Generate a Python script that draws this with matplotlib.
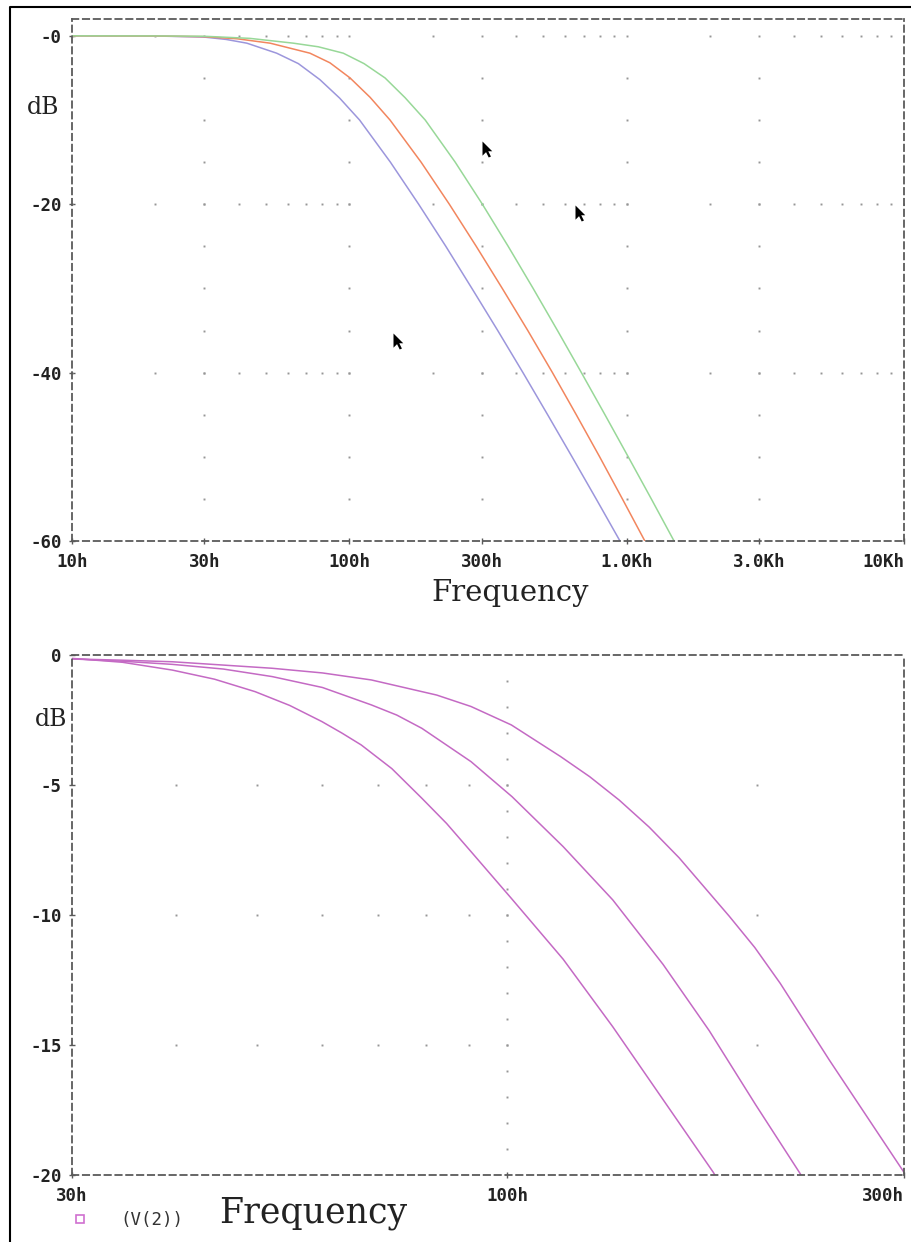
import matplotlib
matplotlib.use('Agg')
import matplotlib.pyplot as plt
from matplotlib.lines import Line2D
from matplotlib.path import Path

# ---- upper plot: three traces, 10 Hz .. 10 kHz ----
freq_blue = [10, 20, 30, 36, 42.7, 54.7, 65.5, 78.3, 92.3, 108.9, 140.6, 177.8, 222.8,
             276.7, 342.8, 422.7, 518.8, 635.3, 776.2, 946, 965]
db_blue = [0, -0.02, -0.15, -0.43, -0.87, -2.06, -3.3, -5.2, -7.4, -10, -15, -20, -25,
           -30, -35, -40, -45, -50, -55, -60, -60.5]

freq_orange = [10, 20, 30, 39.4, 51.8, 72.1, 85.1, 100.6, 118.8, 140.2, 181.4, 229.4, 286.8,
               356, 440, 540, 658, 799, 965, 1163, 1190]
db_orange = [0, -0.02, -0.1, -0.35, -0.87, -2.06, -3.2, -5, -7.3, -10, -15, -20, -25,
             -30, -35, -40, -45, -50, -55, -60, -60.6]

freq_green = [10, 20, 30, 43.8, 62.8, 77.3, 95.1, 113, 134.5, 158.9, 187.8, 240.8, 301.8,
              373.9, 460, 563, 686.6, 835, 1013, 1227, 1482, 1510]
db_green = [0, -0.01, -0.05, -0.3, -0.87, -1.3, -2.06, -3.3, -5, -7.35, -10, -15, -20,
            -25, -30, -35, -40, -45, -50, -55, -60, -60.5]

top_xticks = [10, 30, 100, 300, 1000, 3000, 10000]
top_xlabels = ['10h', '30h', '100h', '300h', '1.0Kh', '3.0Kh', '10Kh']
top_yticks = [0, -20, -40, -60]
top_ylabels = ['-0', '-20', '-40', '-60']

# mouse pointers left in the screenshot
cursor_f = [300, 651, 144]
cursor_db = [-12.5, -20.1, -35.3]

# ---- lower plot: zoom 30 Hz .. 300 Hz, V(2) ----
freq_a = [30, 34.5, 39.6, 44.5, 49.8, 54.8, 59.9, 63.3, 66.8, 72.7, 79.0, 84.6, 90.5,
          101.2, 116.8, 134.0, 154.0, 177.0, 180]
db_a = [-0.13, -0.28, -0.58, -0.93, -1.41, -1.94, -2.56, -3.0, -3.46, -4.37, -5.51, -6.48, -7.56,
        -9.36, -11.7, -14.3, -17.1, -19.9, -20.3]

freq_b = [30, 34.5, 39.6, 45.6, 52.2, 60, 68.7, 73.7, 79.0, 90.5, 101.4, 116.8, 134,
          154, 175, 199, 225, 228]
db_b = [-0.15, -0.24, -0.36, -0.54, -0.83, -1.25, -1.92, -2.31, -2.82, -4.10, -5.45, -7.37, -9.42,
        -11.9, -14.45, -17.3, -19.94, -20.25]

freq_c = [30, 34.5, 39.6, 52.2, 60, 68.7, 82.3, 90.5, 101.2, 115.9, 125.7, 136.4, 148.2,
          161, 185, 198.5, 213, 244, 298.6, 300]
db_c = [-0.15, -0.2, -0.26, -0.51, -0.69, -0.96, -1.54, -1.98, -2.69, -3.9, -4.68, -5.58, -6.62,
        -7.8, -10.05, -11.25, -12.63, -15.58, -19.8, -19.9]

bot_xticks = [30, 100, 300]
bot_xlabels = ['30h', '100h', '300h']
bot_yticks = [0, -5, -10, -15, -20]
bot_ylabels = ['0', '-5', '-10', '-15', '-20']

W, H = 911, 1242
fig = plt.figure(figsize=(W / 100, H / 100), dpi=100)
fig.patch.set_facecolor('white')

frame_col = '#5a5a5a'
dot_col = '#969696'
tick_font = dict(family='DejaVu Sans Mono', weight='bold', size=12.5)


def style_axes(ax, xticks, xlabels, yticks, ylabels):
    ax.set_xscale('log')
    for sp in ax.spines.values():
        sp.set_linestyle((0, (3.5, 2.5)))
        sp.set_color(frame_col)
        sp.set_linewidth(1.3)
    ax.set_xticks(xticks)
    ax.set_xticklabels(xlabels, fontdict=tick_font)
    ax.get_xticklabels()[-1].set_ha('right')
    ax.set_yticks(yticks)
    ax.set_yticklabels(ylabels, fontdict=tick_font)
    ax.minorticks_off()
    ax.tick_params(axis='both', direction='inout', length=5, width=1,
                   color=frame_col, labelcolor='#222222')
    ax.tick_params(axis='x', pad=6)
    ax.tick_params(axis='y', pad=5)


def grid_dots(ax, row_y, row_x, col_x, col_y):
    xs = [x for _ in row_y for x in row_x]
    ys = [y for y in row_y for _ in row_x]
    ax.plot(xs, ys, ls='none', marker='s', ms=1.4, mew=0, color=dot_col)
    xs = [x for x in col_x for _ in col_y]
    ys = [y for _ in col_x for y in col_y]
    ax.plot(xs, ys, ls='none', marker='s', ms=1.4, mew=0, color=dot_col)


# upper axes
ax1 = fig.add_axes([72 / W, 1 - 541 / H, 832 / W, 522 / H])
ax1.set_xlim(10, 10000)
ax1.set_ylim(-60, 2.0)
top_minor = [d * k for d in (10, 100, 1000) for k in range(1, 10)] + [10000]
grid_dots(ax1, [0, -20, -40], top_minor, [30, 100, 300, 1000, 3000],
          [-5 * i for i in range(1, 12)])
ax1.plot(freq_blue, db_blue, color='#9c96dc', lw=1.1)
ax1.plot(freq_orange, db_orange, color='#f2865e', lw=1.1)
ax1.plot(freq_green, db_green, color='#98d898', lw=1.1)
style_axes(ax1, top_xticks, top_xlabels, top_yticks, top_ylabels)

pointer = Path([(0, 0), (0, -16), (4, -12), (7, -18), (9.5, -17), (6.5, -11), (11, -11), (0, 0)],
               [Path.MOVETO] + [Path.LINETO] * 6 + [Path.CLOSEPOLY])
ax1.plot(cursor_f, cursor_db, ls='none', marker=pointer, ms=23, color='black', mew=0)

# lower axes
ax2 = fig.add_axes([72 / W, 1 - 1175 / H, 832 / W, 520 / H])
ax2.set_xlim(30, 300)
ax2.set_ylim(-20, 0)
grid_dots(ax2, [-5, -10, -15], [40, 50, 60, 70, 80, 90, 100, 200], [100],
          [-i for i in range(1, 20)])
purple = '#c46ac4'
ax2.plot(freq_a, db_a, color=purple, lw=1.1)
ax2.plot(freq_b, db_b, color=purple, lw=1.1)
ax2.plot(freq_c, db_c, color=purple, lw=1.1)
style_axes(ax2, bot_xticks, bot_xlabels, bot_yticks, bot_ylabels)

# axis titles
fig.text(43 / W, 1 - 108 / H, 'dB', family='DejaVu Serif', size=17,
         ha='center', va='center', color='#222222')
fig.text(51 / W, 1 - 720 / H, 'dB', family='DejaVu Serif', size=17,
         ha='center', va='center', color='#222222')
fig.text(510 / W, 1 - 601 / H, 'Frequency', family='DejaVu Serif', size=21,
         ha='center', va='baseline', color='#222222')
fig.text(313 / W, 1 - 1223 / H, 'Frequency', family='DejaVu Serif', size=25,
         ha='center', va='baseline', color='#222222')

# trace legend
fig.add_artist(Line2D([80 / W], [1 - 1219 / H], transform=fig.transFigure, ls='none',
                      marker='s', ms=6, mfc='white', mec='#d070d0', mew=1.2))
fig.text(120 / W, 1 - 1225 / H, '(V(2))', family='DejaVu Sans Mono', size=12.5,
         ha='left', va='baseline', color='#333333')

# screenshot border
fig.add_artist(Line2D([10 / W, 10 / W, 1], [0, 1 - 7 / H, 1 - 7 / H],
                      transform=fig.transFigure, color='black', lw=1.5))

fig.savefig('out.png', dpi=100)
